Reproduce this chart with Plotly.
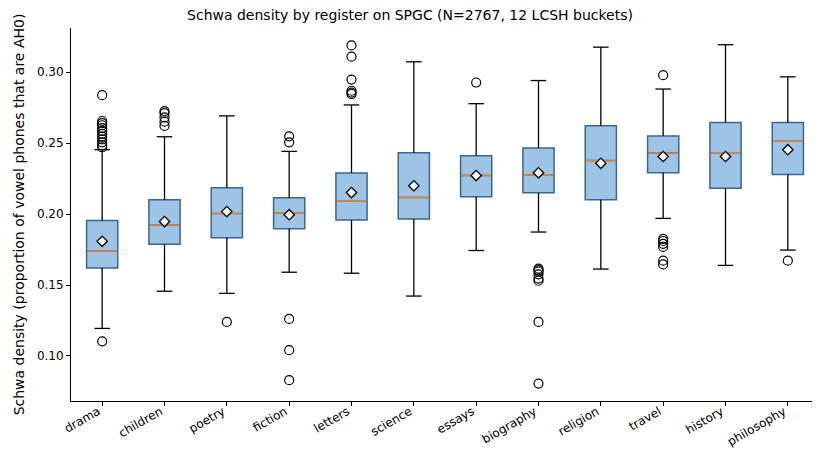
import plotly.graph_objects as go

categories = ["drama", "children", "poetry", "fiction", "letters", "science",
              "essays", "biography", "religion", "travel", "history", "philosophy"]
q1 = [0.1619, 0.1787, 0.1832, 0.1897, 0.1957, 0.1964, 0.2122, 0.2149, 0.2101, 0.2290, 0.2182, 0.2278]
median = [0.1741, 0.1923, 0.2003, 0.2009, 0.2094, 0.2117, 0.2271, 0.2273, 0.2376, 0.2429, 0.2432, 0.2516]
q3 = [0.1955, 0.2101, 0.2185, 0.2115, 0.2288, 0.2432, 0.2410, 0.2465, 0.2621, 0.2549, 0.2645, 0.2645]
mean = [0.1808, 0.1947, 0.2017, 0.1995, 0.2151, 0.2199, 0.2271, 0.2290, 0.2357, 0.2405, 0.2405, 0.2453]
whisker_low = [0.1194, 0.1456, 0.1441, 0.1590, 0.1583, 0.1422, 0.1743, 0.1873, 0.1612, 0.1969, 0.1638, 0.1746]
whisker_high = [0.2453, 0.2544, 0.2691, 0.2441, 0.2768, 0.3072, 0.2777, 0.2940, 0.3175, 0.2880, 0.3192, 0.2966]
outliers = [
    [0.2837, 0.2655, 0.2640, 0.2625, 0.2605, 0.2585, 0.2565, 0.2545, 0.2525, 0.2505, 0.2485, 0.2470, 0.1103],
    [0.2725, 0.2710, 0.2680, 0.2650, 0.2620],
    [0.1240],
    [0.2547, 0.2505, 0.1261, 0.1041, 0.0830],
    [0.3187, 0.3108, 0.2947, 0.2868, 0.2855, 0.2845],
    [],
    [0.2926],
    [0.1615, 0.1605, 0.1595, 0.1575, 0.1545, 0.1530, 0.1240, 0.0806],
    [],
    [0.2978, 0.1825, 0.1810, 0.1790, 0.1768, 0.1671, 0.1645],
    [],
    [0.1671],
]
title = "Schwa density by register on SPGC (N=2767, 12 LCSH buckets)"
ylabel = "Schwa density (proportion of vowel phones that are AH0)"
yticks = [0.10, 0.15, 0.20, 0.25, 0.30]

pos = list(range(len(categories)))
half_box = 0.25
half_cap = 0.125

fig = go.Figure()

# whiskers (black) with caps
wx, wy = [], []
for i, p in enumerate(pos):
    wx += [p, p, None, p, p, None, p - half_cap, p + half_cap, None, p - half_cap, p + half_cap, None]
    wy += [q1[i], whisker_low[i], None, q3[i], whisker_high[i], None,
           whisker_low[i], whisker_low[i], None, whisker_high[i], whisker_high[i], None]
fig.add_trace(go.Scatter(x=wx, y=wy, mode="lines", line=dict(color="black", width=1.3),
                         hoverinfo="skip", showlegend=False))

# boxes
fig.add_trace(go.Box(x=pos, q1=q1, median=median, q3=q3, lowerfence=q1, upperfence=q3,
                     width=2 * half_box, whiskerwidth=0, boxpoints=False,
                     fillcolor="#9dc3e6", line=dict(color="#3a6690", width=1.5),
                     showlegend=False))

# medians (orange)
mx, my = [], []
for i, p in enumerate(pos):
    mx += [p - half_box + 0.01, p + half_box - 0.01, None]
    my += [median[i], median[i], None]
fig.add_trace(go.Scatter(x=mx, y=my, mode="lines", line=dict(color="#ff7f0e", width=1.3),
                         hoverinfo="skip", showlegend=False))

# means
fig.add_trace(go.Scatter(x=pos, y=mean, mode="markers",
                         marker=dict(symbol="diamond", size=8, color="white",
                                     line=dict(color="black", width=1.3)),
                         showlegend=False))

# outliers
ox, oy = [], []
for i, p in enumerate(pos):
    for v in outliers[i]:
        ox.append(p)
        oy.append(v)
fig.add_trace(go.Scatter(x=ox, y=oy, mode="markers",
                         marker=dict(symbol="circle-open", size=9, color="black",
                                     line=dict(width=1.2)),
                         showlegend=False))

# the page body has an 8px default margin; size the figure to fit the 820x449 window
W, H = 812, 441
fig.update_layout(
    width=W, height=H,
    margin=dict(l=63, r=1, t=20, b=48, autoexpand=False),
    paper_bgcolor="white", plot_bgcolor="white",
    font=dict(family="DejaVu Sans", size=12, color="black"),
    title=dict(text=title, x=(410 - 8) / W, xanchor="center", y=1 - 7 / H, yanchor="middle",
               font=dict(size=14), automargin=False),
)
fig.update_xaxes(range=[-0.5, 11.5], tickmode="array", tickvals=pos, ticktext=categories,
                 tickangle=-30, showline=True, linecolor="black", linewidth=1,
                 ticks="outside", ticklen=4, tickcolor="black", showgrid=False,
                 ticklabelstandoff=-6, ticklabelshift=-4,
                 zeroline=False, mirror=False, automargin=False)
fig.update_yaxes(range=[0.0683, 0.331], tickmode="array", tickvals=yticks,
                 ticktext=[f"{t:.2f}" for t in yticks],
                 showline=True, linecolor="black", linewidth=1,
                 ticks="outside", ticklen=4, tickcolor="black", showgrid=False,
                 zeroline=False, automargin=False, title=dict(text=ylabel, standoff=8))

fig.write_html("out.html")
